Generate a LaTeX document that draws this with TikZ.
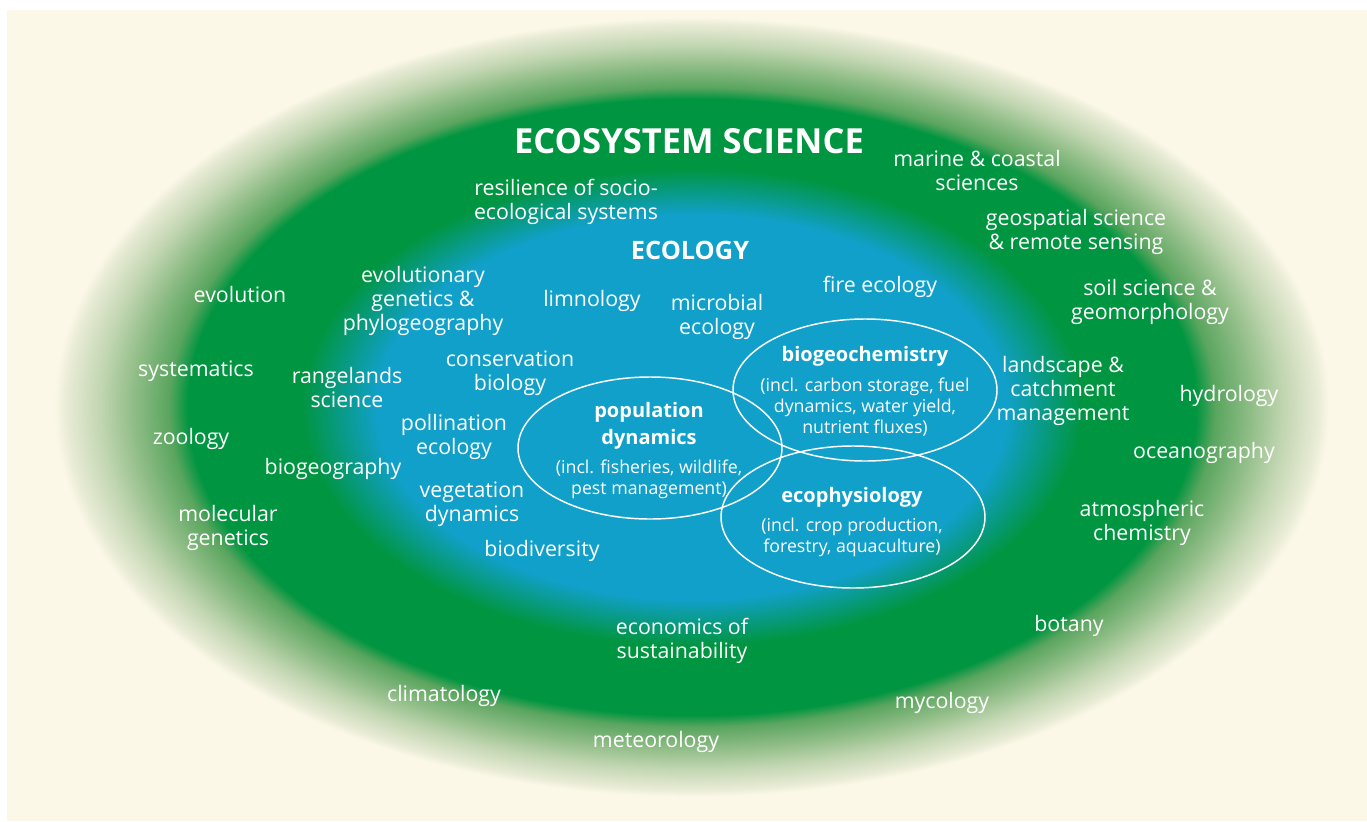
\documentclass[tikz,border=0pt]{standalone}
\usepackage{fontspec}
\setmainfont{Open Sans}
\usetikzlibrary{shapes.geometric}
\definecolor{cream}{RGB}{252,248,232}
\definecolor{ecoblue}{RGB}{17,160,201}
\definecolor{ecogreen}{RGB}{0,149,64}
\definecolor{gA}{RGB}{90,165,95}
\definecolor{gB}{RGB}{144,189,135}
\definecolor{gC}{RGB}{194,214,178}
\definecolor{gD}{RGB}{232,235,213}
\pgfdeclareradialshading{ecoshade}{\pgfpoint{0bp}{0bp}}{color(0bp)=(ecoblue); color(12.35bp)=(ecoblue); color(15.3bp)=(ecogreen); color(19.75bp)=(ecogreen); color(20.5bp)=(gA); color(21.9bp)=(gB); color(23.2bp)=(gC); color(24.5bp)=(gD); color(25bp)=(cream); color(50bp)=(cream)}
\tikzset{
  lbl/.style={text=white, align=center, inner sep=0pt, yshift=-1.5pt, font=\fontsize{16}{18}\selectfont},
  hd/.style={text=white, align=center, inner sep=0pt, yshift=-1.5pt, font=\fontsize{15}{20}\selectfont\bfseries},
  sub/.style={text=white, align=center, inner sep=0pt, yshift=-1.5pt, font=\fontsize{13.3}{15.8}\selectfont},
  bigtitle/.style={text=white, inner sep=0pt, font=\fontsize{25.9}{30}\selectfont\bfseries},
  midtitle/.style={text=white, inner sep=0pt, font=\fontsize{19}{22}\selectfont\bfseries},
  ell/.style={draw=white, line width=1.1pt, ellipse, minimum width=198pt, minimum height=106.5pt, inner sep=0pt}
}
\begin{document}
\begin{tikzpicture}[x=0.75pt,y=-0.75pt]
\useasboundingbox (0,0) rectangle (1367,821);
\fill[white] (0,0) rectangle (1367,821);
\fill[cream] (7,10) rectangle (1367,821);
\path[shading=ecoshade] (692,407) ellipse [x radius=478.5pt, y radius=292.5pt];

% inner ellipses
\node[ell] (popE) at (650,448) {};
\node[ell] (bgcE) at (865,390) {};
\node[ell] (ecoE) at (853,517) {};

% titles
\node[bigtitle] (tEco) at (689,141) {ECOSYSTEM SCIENCE};
\node[midtitle] (tEcol) at (690,250) {ECOLOGY};

% ellipse texts
\node[hd] (popH) at (649,423.5) {population\\dynamics};
\node[sub] (popS) at (649,477) {(incl. fisheries, wildlife,\\pest management)};
\node[hd] (bgcH) at (865,354) {biogeochemistry};
\node[sub] (bgcS) at (865,405) {(incl. carbon storage, fuel\\dynamics, water yield,\\nutrient fluxes)};
\node[hd] (ecoH) at (852,495) {ecophysiology};
\node[sub] (ecoS) at (852,535.5) {(incl. crop production,\\forestry, aquaculture)};

% labels
\node[lbl] (l1) at (977,168) {marine \& coastal\\sciences};
\node[lbl] (l2) at (566,200) {resilience of socio-\\ecological systems};
\node[lbl] (l3) at (1076,230) {geospatial science\\\& remote sensing};
\node[lbl] (l4) at (240,292) {evolution};
\node[lbl] (l5) at (423,299) {evolutionary\\genetics \&\\phylogeography};
\node[lbl] (l6) at (592,299) {limnology};
\node[lbl] (l7) at (717,315) {microbial\\ecology};
\node[lbl] (l8) at (880,285) {fire ecology};
\node[lbl] (l9) at (1150,300) {soil science \&\\geomorphology};
\node[lbl] (l10) at (196,369) {systematics};
\node[lbl] (l11) at (347,385) {rangelands\\science};
\node[lbl] (l12) at (510,371) {conservation\\biology};
\node[lbl] (l13) at (1063,389) {landscape \&\\catchment\\management};
\node[lbl] (l14) at (1229,394) {hydrology};
\node[lbl] (l15) at (191,437) {zoology};
\node[lbl] (l16) at (454,435) {pollination\\ecology};
\node[lbl] (l17) at (1204,451) {oceanography};
\node[lbl] (l18) at (333,467) {biogeography};
\node[lbl] (l19) at (472,502) {vegetation\\dynamics};
\node[lbl] (l20) at (1142,521) {atmospheric\\chemistry};
\node[lbl] (l21) at (228,526) {molecular\\genetics};
\node[lbl] (l22) at (542,549) {biodiversity};
\node[lbl] (l23) at (682,639) {economics of\\sustainability};
\node[lbl] (l24) at (1069,624) {botany};
\node[lbl] (l25) at (444,694) {climatology};
\node[lbl] (l26) at (942,701) {mycology};
\node[lbl] (l27) at (656,740) {meteorology};
\end{tikzpicture}
\end{document}
